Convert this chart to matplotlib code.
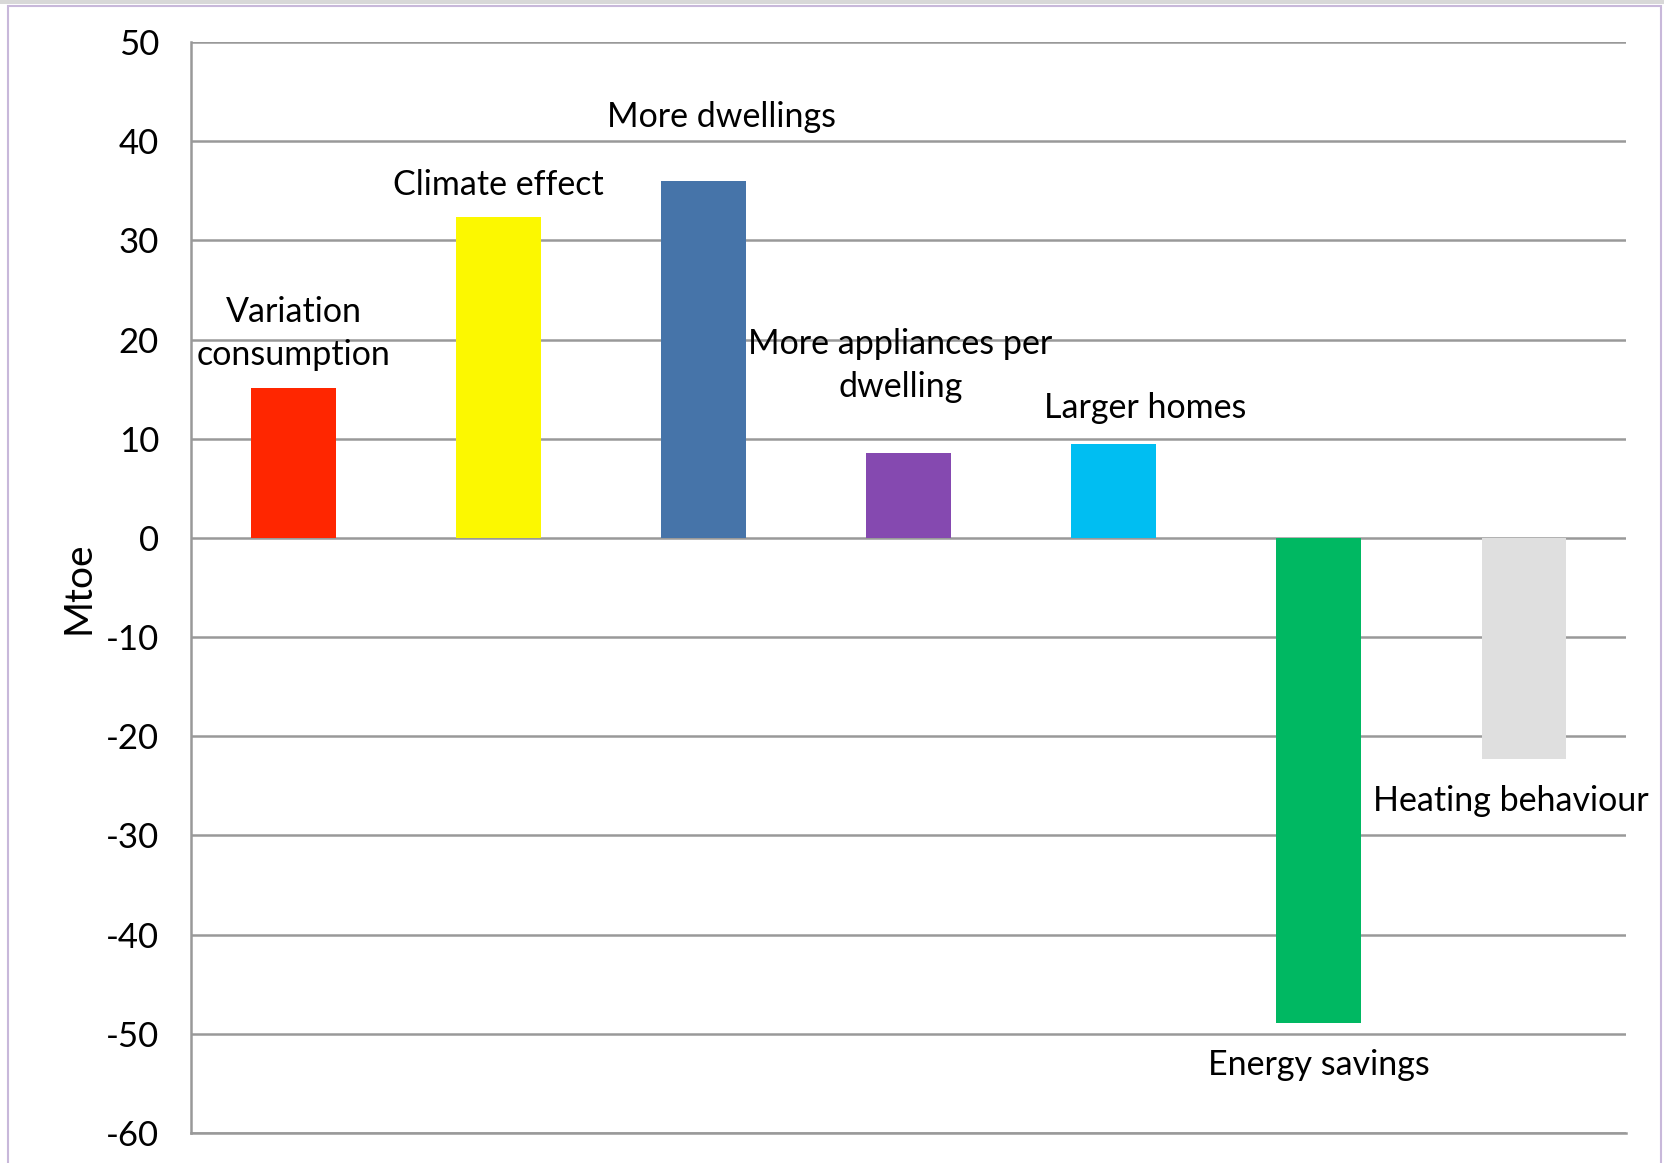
import numpy as np
import matplotlib
matplotlib.use("Agg")
import matplotlib.pyplot as plt
from matplotlib.patches import Rectangle

plt.rcParams['font.family'] = ['Lato', 'DejaVu Sans']

# Decomposition of household energy consumption change (Mtoe)
categories = ["Variation\nconsumption", "Climate effect", "More dwellings",
              "More appliances per\ndwelling", "Larger homes", "Energy savings",
              "Heating behaviour"]
values = [15.1, 32.4, 36.0, 8.6, 9.5, -48.9, -22.3]
colors = ["#FF2600", "#FCF800", "#4674A9", "#8549B0", "#00BEF2", "#00B862", "#DFDFDF"]

# label anchors (x offset from bar centre, y in data units)
label_dx = [0.0, 0.0, 0.09, -0.04, 0.155, 0.0, -0.06]
label_y = [20.6, 35.6, 42.4, 17.4, 13.1, -53.1, -26.5]

yticks = np.arange(-60, 51, 10)

fig = plt.figure(figsize=(16.65, 11.63), dpi=100)
ax = fig.add_axes([0.1147, 0.0258, 0.9766 - 0.1147, 0.9639 - 0.0258])

x = np.arange(len(values))
ax.bar(x, values, width=0.41, color=colors, zorder=3)

for i, lab in enumerate(categories):
    ax.text(x[i] + label_dx[i], label_y[i], lab, ha='center', va='center',
            fontsize=24.5, linespacing=1.4, zorder=4)

ax.set_xlim(-0.5, len(values) - 0.5)
ax.set_ylim(-60, 50)
ax.set_yticks(yticks)
ax.set_yticklabels([str(v) for v in yticks], fontsize=25)
ax.set_xticks([])
ax.tick_params(axis='y', length=0, pad=23)
ax.yaxis.grid(True, color='#999999', linewidth=1.8, zorder=1)
ax.set_axisbelow(True)

for side in ['top', 'right']:
    ax.spines[side].set_visible(False)
for side in ['left', 'bottom']:
    ax.spines[side].set_color('#999999')
    ax.spines[side].set_linewidth(1.8)

ax.set_ylabel('Mtoe', fontsize=28)
ax.yaxis.set_label_coords(-0.066, 0.5)

# chart frame
fig.patches.append(Rectangle((8 / 1665, -0.01), (1661 - 8) / 1665, 1 - 6 / 1163 + 0.01,
                             transform=fig.transFigure, fill=False,
                             edgecolor='#C8B8DA', linewidth=1.5))
fig.patches.append(Rectangle((0, 1 - 4 / 1163), 1, 4 / 1163,
                             transform=fig.transFigure, facecolor='#D8D8D8',
                             edgecolor='none'))

fig.savefig('out.png', dpi=100)
